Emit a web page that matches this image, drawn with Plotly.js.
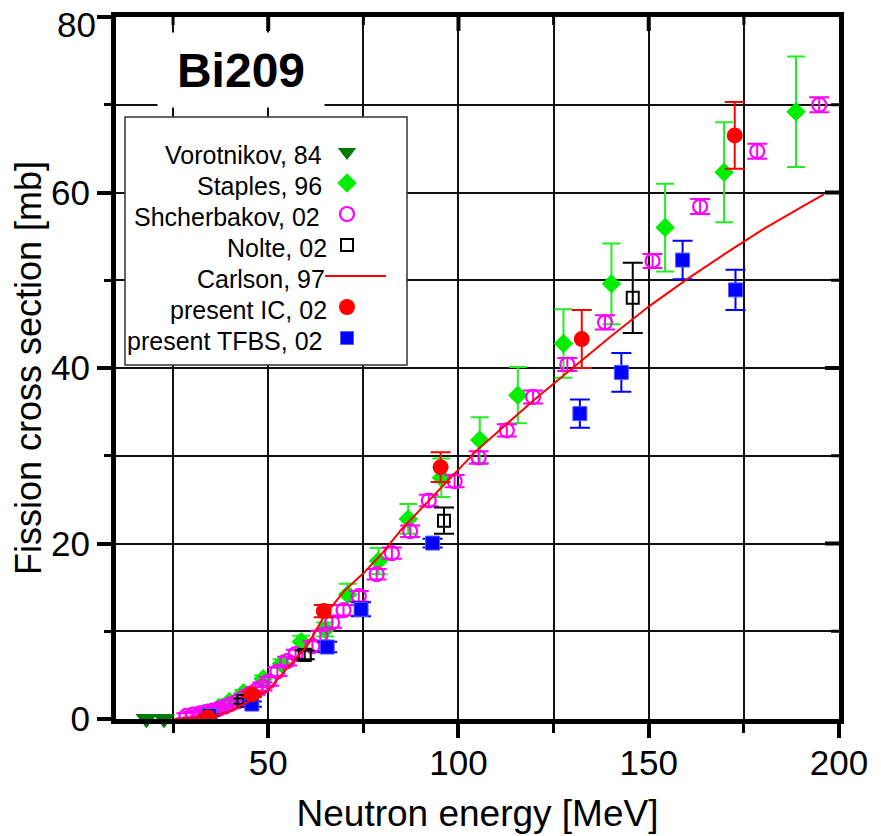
<!DOCTYPE html>
<html><head><meta charset="utf-8">
<script src="https://cdn.plot.ly/plotly-3.0.1.min.js"></script>
<style>html,body{margin:0;padding:0;background:#fff;} #chart{width:881px;height:836px;}</style>
</head><body><div id="chart"></div>
<script>
// ---- data ----
const voroE = [18.0, 22.6];
const voroS = [0.02, 0.02];

const staplesE = [34.0, 37.0, 39.8, 43.5, 48.7, 53.5, 58.7, 65.0, 70.9, 79.0, 86.8, 95.5, 105.6, 115.6, 127.6, 140.2, 154.3, 169.8, 188.7];
const staplesS = [0.7, 1.3, 2.0, 3.0, 4.6, 6.3, 8.8, 10.2, 14.2, 18.0, 22.8, 27.5, 31.8, 36.9, 42.8, 49.6, 56.0, 62.3, 69.2];
const staplesErr = [0.2, 0.2, 0.25, 0.3, 0.4, 0.5, 0.7, 0.8, 1.2, 1.5, 1.7, 2.2, 2.6, 3.2, 3.9, 4.6, 5.0, 5.7, 6.3];

const shchE = [28.5, 30.2, 32.0, 33.6, 35.4, 37.0, 38.6, 40.2, 41.8, 43.4, 45.0, 46.7, 48.5, 50.2, 52.4, 55.0, 57.2, 61.6, 63.7, 66.8, 69.8, 73.8, 78.5, 82.5, 87.3, 92.2, 99.0, 105.3, 112.7, 119.6, 128.6, 138.5, 151.0, 163.5, 178.5, 194.8];
const shchS = [0.35, 0.5, 0.65, 0.8, 0.95, 1.15, 1.4, 1.7, 2.0, 2.4, 2.8, 3.2, 3.7, 4.3, 5.4, 6.6, 7.4, 8.3, 9.5, 11.0, 12.4, 14.0, 16.5, 18.9, 21.4, 24.9, 27.1, 29.8, 32.9, 36.7, 40.4, 45.2, 52.2, 58.4, 64.7, 70.0];
const shchErr = [0.3, 0.3, 0.3, 0.3, 0.35, 0.35, 0.35, 0.4, 0.4, 0.4, 0.45, 0.45, 0.45, 0.5, 0.5, 0.5, 0.5, 0.55, 0.55, 0.6, 0.6, 0.6, 0.6, 0.65, 0.65, 0.65, 0.7, 0.7, 0.7, 0.75, 0.75, 0.8, 0.8, 0.85, 0.85, 0.85];

const nolteE = [43.5, 59.6, 96.2, 145.8];
const nolteS = [2.05, 7.3, 22.6, 48.0];
const nolteErr = [0.3, 0.5, 1.5, 4.0];

const carlsonE = [25.4, 30, 35, 40, 45, 50, 55, 60, 65, 70, 75, 80, 85, 90, 95, 100, 105, 110, 115, 120, 130, 140, 150, 160, 170, 180, 190, 196];
const carlsonS = [0, 0.1, 0.3, 0.9, 2.0, 3.3, 5.8, 8.2, 11.9, 14.6, 16.6, 18.9, 21.6, 23.9, 26.1, 28.4, 30.7, 32.6, 34.5, 36.4, 40.0, 43.6, 47.0, 50.1, 53.0, 55.8, 58.3, 59.8];

const icE = [34.1, 45.7, 64.6, 95.3, 132.4, 172.6];
const icS = [0.2, 2.8, 12.3, 28.7, 43.3, 66.5];
const icErr = [0.05, 0.3, 0.7, 1.7, 3.3, 3.8];

const tfbsE = [34.5, 45.7, 65.5, 74.4, 93.2, 131.9, 142.8, 158.9, 172.8];
const tfbsS = [0.4, 1.7, 8.2, 12.5, 20.05, 34.8, 39.5, 52.3, 48.9];
const tfbsErr = [0.1, 0.3, 0.6, 0.8, 0.5, 1.6, 2.2, 2.2, 2.3];

const legendNames = ['Vorotnikov, 84', 'Staples, 96', 'Shcherbakov, 02', 'Nolte, 02', 'Carlson, 97', 'present IC, 02', 'present TFBS, 02'];
const chartTitle = 'Bi209';
const xTitle = 'Neutron energy [MeV]';
const yTitle = 'Fission cross section [mb]';
const xTicks = [50, 100, 150, 200];
const xMinorTicks = [25, 75, 125, 175];
const yTicks = [0, 20, 40, 60, 80];
const yMinorTicks = [10, 30, 50, 70];

// ---- layout geometry (pixels) ----
const W = 881, H = 836;
const PL = 116, PR = 839, PT = 17, PB = 719;
const XR = [10, 200], YR = [0, 80];
const px2x = p => XR[0] + (p - PL) * (XR[1] - XR[0]) / (PR - PL);
const px2y = p => YR[0] + (PB - p) * (YR[1] - YR[0]) / (PB - PT);
const pxPaperX = p => (p - PL) / (PR - PL);
const pxPaperY = p => (PB - p) / (PB - PT);

const FONT = 'Liberation Sans, Arial, Helvetica, sans-serif';

const traces = [
  {x: staplesE, y: staplesS, type: 'scatter', mode: 'markers', name: legendNames[1],
   marker: {symbol: 'diamond', size: 15, color: '#00ee00'},
   error_y: {type: 'data', array: staplesErr, color: '#22ee22', thickness: 2, width: 9}},
  {x: shchE, y: shchS, type: 'scatter', mode: 'markers', name: legendNames[2],
   marker: {symbol: 'circle-open', size: 14, color: '#ff00ff', line: {width: 2.2, color: '#ff00ff'}},
   error_y: {type: 'data', array: shchErr, color: '#ff00ff', thickness: 2, width: 10}},
  {x: nolteE, y: nolteS, type: 'scatter', mode: 'markers', name: legendNames[3],
   marker: {symbol: 'square-open', size: 12, color: '#000', line: {width: 2, color: '#000'}},
   error_y: {type: 'data', array: nolteErr, color: '#000', thickness: 2, width: 10}},
  {x: tfbsE, y: tfbsS, type: 'scatter', mode: 'markers', name: legendNames[6],
   marker: {symbol: 'square', size: 14, color: '#0000ff', line: {width: 1, color: '#5a5aff'}},
   error_y: {type: 'data', array: tfbsErr, color: '#0000ff', thickness: 2, width: 10}},
  {x: icE, y: icS, type: 'scatter', mode: 'markers', name: legendNames[5],
   marker: {symbol: 'circle', size: 16, color: '#ff0000'},
   error_y: {type: 'data', array: icErr, color: '#ff0000', thickness: 2, width: 10}},
  {x: carlsonE, y: carlsonS, type: 'scatter', mode: 'lines', name: legendNames[4],
   line: {color: '#ff0000', width: 2}},
  {x: voroE, y: voroS, type: 'scatter', mode: 'markers', name: legendNames[0],
   marker: {symbol: 'triangle-down', size: 19, color: '#007a00'}, cliponaxis: false}
];

// ---- custom legend (text on the left, symbol on the right) ----
const rowY = [155, 186, 217, 248, 279, 310, 341];
const textRight = [324, 324, 322, 329, 327, 329, 324];
const symX = 347;
const legendSyms = [
  {symbol: 'triangle-down', size: 16, color: '#007a00'},
  {symbol: 'diamond', size: 15, color: '#00ee00'},
  {symbol: 'circle-open', size: 14, color: '#ff00ff', line: {width: 2.2, color: '#ff00ff'}},
  {symbol: 'square-open', size: 12, color: '#000', line: {width: 2, color: '#000'}},
  null,
  {symbol: 'circle', size: 16, color: '#ff0000'},
  {symbol: 'square', size: 13, color: '#0000ff', line: {width: 1, color: '#5a5aff'}}
];
legendSyms.forEach((m, i) => {
  if (!m) return;
  traces.push({x: [px2x(symX)], y: [px2y(rowY[i] - 3)], type: 'scatter', mode: 'markers',
    marker: m, showlegend: false, hoverinfo: 'skip'});
});
traces.push({x: [px2x(325), px2x(386)], y: [px2y(276), px2y(276)], type: 'scatter', mode: 'lines',
  line: {color: '#ff0000', width: 2}, showlegend: false, hoverinfo: 'skip'});

const annotations = legendNames.map((t, i) => ({
  text: t, xref: 'paper', yref: 'paper', x: pxPaperX(textRight[i]), y: pxPaperY(rowY[i]),
  xanchor: 'right', yanchor: 'middle', showarrow: false,
  font: {family: FONT, size: 25, color: '#000'}
}));
annotations.push({
  text: '<b>' + chartTitle + '</b>', xref: 'paper', yref: 'paper',
  x: pxPaperX(241), y: pxPaperY(70), xanchor: 'center', yanchor: 'middle', showarrow: false,
  width: 166, height: 74, borderpad: 0, bgcolor: '#fff',
  font: {family: FONT, size: 48, color: '#000'}
});
// top y tick label, nudged down so it stays inside the picture (as in the reference)
annotations.push({
  text: String(yTicks[yTicks.length - 1]), xref: 'paper', yref: 'paper',
  x: pxPaperX(98), y: pxPaperY(24), xanchor: 'right', yanchor: 'middle', showarrow: false,
  font: {family: FONT, size: 35, color: '#000'}
});

const shapes = [{
  type: 'rect', xref: 'x', yref: 'y', layer: 'between',
  x0: px2x(125), x1: px2x(407), y0: px2y(365), y1: px2y(117),
  fillcolor: '#fff', line: {color: '#333', width: 1.5}
}];
// inward tick marks on the top and right frame, placed through the axis scales
const topLen = L => 1 - L / (PB - PT);
const rightLen = L => 1 - L / (PR - PL);
xTicks.filter(v => v < XR[1]).forEach(v => shapes.push({type: 'line', xref: 'x', yref: 'paper', layer: 'above',
  x0: v, x1: v, y0: 1, y1: topLen(14), line: {color: '#000', width: 4}}));
xMinorTicks.forEach(v => shapes.push({type: 'line', xref: 'x', yref: 'paper', layer: 'above',
  x0: v, x1: v, y0: 1, y1: topLen(8), line: {color: '#000', width: 3}}));
yTicks.filter(v => v > YR[0] && v < YR[1]).forEach(v => shapes.push({type: 'line', xref: 'paper', yref: 'y', layer: 'above',
  x0: 1, x1: rightLen(14), y0: v, y1: v, line: {color: '#000', width: 4}}));
yMinorTicks.forEach(v => shapes.push({type: 'line', xref: 'paper', yref: 'y', layer: 'above',
  x0: 1, x1: rightLen(8), y0: v, y1: v, line: {color: '#000', width: 3}}));

const axisCommon = {
  showline: true, linecolor: '#000', linewidth: 5, mirror: true,
  showgrid: true, gridcolor: '#111', gridwidth: 2, zeroline: false,
  ticks: 'outside', ticklen: 14, tickwidth: 4, tickcolor: '#000',
  tickfont: {family: FONT, size: 35, color: '#000'}
};

const layout = {
  width: W, height: H,
  margin: {l: PL, r: W - PR, t: PT, b: H - PB},
  paper_bgcolor: '#fff', plot_bgcolor: '#fff',
  showlegend: false,
  xaxis: Object.assign({}, axisCommon, {
    range: XR, tickmode: 'array', tickvals: xTicks, ticktext: xTicks.map(String),
    ticklabelstandoff: -5, ticklabeloverflow: 'allow',
    minor: {tickmode: 'array', tickvals: xMinorTicks, ticks: 'outside', ticklen: 9, tickwidth: 3, tickcolor: '#000',
            showgrid: true, gridcolor: '#111', gridwidth: 2},
    title: {text: xTitle, font: {family: FONT, size: 37, color: '#000'}, standoff: 21}
  }),
  yaxis: Object.assign({}, axisCommon, {
    range: YR, tickmode: 'array', tickvals: yTicks,
    ticktext: yTicks.map((v, i) => i === yTicks.length - 1 ? '' : String(v)),
    minor: {tickmode: 'array', tickvals: yMinorTicks, ticks: 'outside', ticklen: 7, tickwidth: 3, tickcolor: '#000',
            showgrid: true, gridcolor: '#111', gridwidth: 2},
    title: {text: yTitle, font: {family: FONT, size: 36, color: '#000'}, standoff: 0}
  }),
  annotations: annotations,
  shapes: shapes
};

Plotly.newPlot('chart', traces, layout, {displayModeBar: false, staticPlot: true});
</script>
</body></html>
